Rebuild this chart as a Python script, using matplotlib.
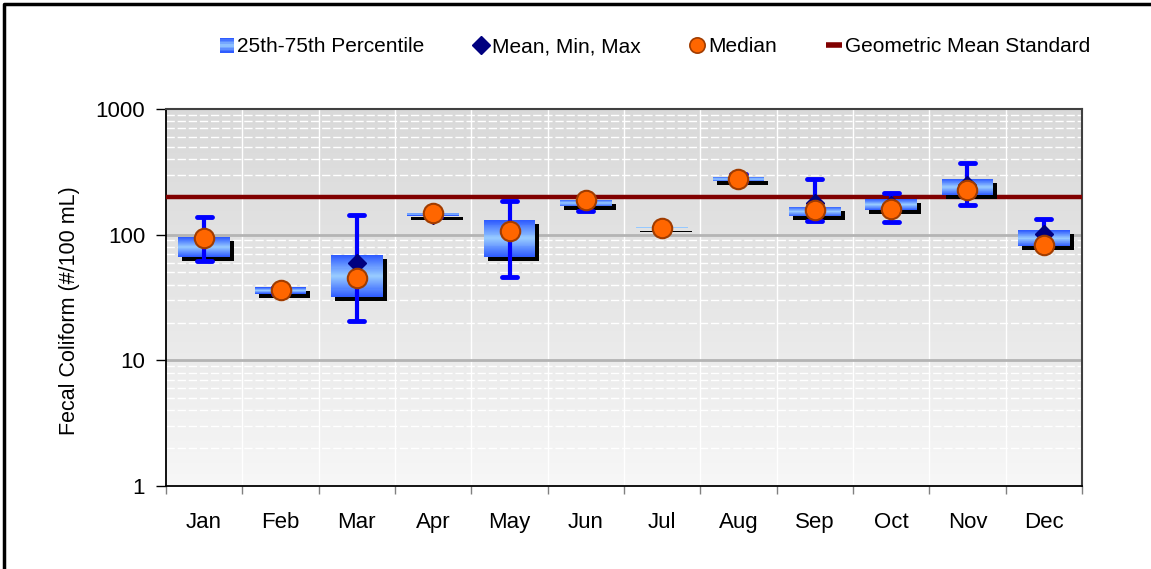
import numpy as np
import matplotlib
matplotlib.use("Agg")
import matplotlib.pyplot as plt
from matplotlib import transforms
from matplotlib.patches import Rectangle
from matplotlib.lines import Line2D
from matplotlib.legend_handler import HandlerBase
from matplotlib.colors import LinearSegmentedColormap

plt.rcParams['font.family'] = ['Liberation Sans', 'DejaVu Sans']

months = ["Jan", "Feb", "Mar", "Apr", "May", "Jun", "Jul", "Aug", "Sep", "Oct", "Nov", "Dec"]
q25 = [67, 34, 32, 142, 67, 168, 112, 265, 140, 157, 207, 81]
q75 = [95, 38, 69, 150, 131, 190, 116, 290, 167, 192, 277, 108]
median = [94, 36.5, 45, 149, 106, 189, 114, 277, 157, 160, 226, 82]
mean = [92, 36, 59, 143, 106, 185, 114, 285, 178, 172, 250, 101]
vmin = [62, 34, 20.4, 138, 46.4, 155, 112, 262, 128, 127, 172, 80]
vmax = [137, 38, 144, 152, 186, 192, 116, 305, 277, 214, 373, 133]
standard = 200
yticks = [1, 10, 100, 1000]
ylabel = "Fecal Coliform (#/100 mL)"
legend_labels = ["25th-75th Percentile", "Mean, Min, Max", "Median", "Geometric Mean Standard"]

W, H = 1151, 569
fig = plt.figure(figsize=(W / 100, H / 100), dpi=100)
ax = fig.add_axes([166 / W, 1 - 486 / H, (1082 - 166) / W, (486 - 109) / H])
ax.set_yscale('log')
n = len(months)
ax.set_xlim(-0.5, n - 0.5)
ax.set_ylim(1, 1000)
ax.set_autoscale_on(False)

# background gradient
bg = LinearSegmentedColormap.from_list('bg', ['#f7f7f7', '#e6e6e6', '#d9d9d9'])
grad = np.linspace(0, 1, 256).reshape(-1, 1)
ax.imshow(grad, cmap=bg, aspect='auto', extent=[0, 1, 0, 1], origin='lower',
          transform=ax.transAxes, zorder=0, interpolation='bilinear')

# gridlines
for d in range(0, 3):
    for k in range(2, 10):
        ax.axhline(k * 10 ** d, color='white', lw=1.0, ls=(0, (6, 2)), zorder=1)
for t in yticks[1:-1]:
    ax.axhline(t, color='#b4b4b4', lw=2.0, zorder=1.5)
for b in np.arange(0.5, n - 0.5, 1):
    ax.axvline(b, color='white', lw=1.0, zorder=1)

# standard line
ax.axhline(standard, color='#800000', lw=3.2, zorder=3)

box_cmap = LinearSegmentedColormap.from_list('box', ['#2f5cff', '#99ccff', '#2f5cff'])
shadow_tr = transforms.offset_copy(ax.transData, fig=fig, x=4, y=-4, units='dots')
bw = 0.68
nslice = 40
for i in range(n):
    lo, hi = q25[i], q75[i]
    ax.add_patch(Rectangle((i - bw / 2, lo), bw, hi - lo, facecolor='black',
                           edgecolor='none', transform=shadow_tr, zorder=3.5))
    edges = np.logspace(np.log10(lo), np.log10(hi), nslice + 1)
    for j in range(nslice):
        c = box_cmap(j / (nslice - 1))
        ax.add_patch(Rectangle((i - bw / 2, edges[j]), bw, edges[j + 1] - edges[j],
                               facecolor=c, edgecolor='none', zorder=4))

x = np.arange(n)
ax.vlines(x, vmin, vmax, color='#0000ff', lw=3, zorder=5)
cw = 0.1
ax.hlines(vmin, x - cw, x + cw, color='#0000ff', lw=3.5, zorder=5, capstyle='round')
ax.hlines(vmax, x - cw, x + cw, color='#0000ff', lw=3.5, zorder=5, capstyle='round')
ax.plot(x, mean, ls='none', marker='D', ms=9, color='#000080', zorder=6)
ax.plot(x, median, ls='none', marker='o', ms=14, markerfacecolor='#ff6600',
        markeredgecolor='#a03c00', markeredgewidth=1.5, zorder=7)

# axes styling
ax.set_yticks(yticks)
ax.set_yticklabels([str(t) for t in yticks])
ax.yaxis.set_minor_locator(matplotlib.ticker.NullLocator())
ax.tick_params(axis='y', which='major', length=7, width=1, direction='out', labelsize=16, pad=8)
ax.set_xticks(np.arange(-0.5, n, 1))
ax.set_xticklabels([])
ax.set_xticks(x, minor=True)
ax.set_xticklabels(months, minor=True)
ax.tick_params(axis='x', which='major', length=6, width=1, color='#808080', direction='out')
ax.tick_params(axis='x', which='minor', length=0, labelsize=16, pad=19)
for s in ['left', 'bottom']:
    ax.spines[s].set_color('black')
    ax.spines[s].set_linewidth(1.3)
for s in ['top', 'right']:
    ax.spines[s].set_color('#404040')
    ax.spines[s].set_linewidth(1.5)
ax.set_ylabel(ylabel, fontsize=15.5)
ax.yaxis.set_label_coords((80 - 166) / 916, (486 - 311) / 377)


class GradHandler(HandlerBase):
    def create_artists(self, legend, orig_handle, xdescent, ydescent, width, height, fontsize, trans):
        arts = []
        s = height * 1.0
        x0 = xdescent + width - s
        y0 = -ydescent + (height - s) / 2
        k = 10
        for j in range(k):
            r = Rectangle((x0, y0 + s * j / k), s, s / k, facecolor=box_cmap(j / (k - 1)),
                          edgecolor='none', transform=trans)
            arts.append(r)
        return arts


h_box = Rectangle((0, 0), 1, 1)
h_mean = Line2D([], [], ls='none', marker='D', ms=9, color='#000080')
h_med = Line2D([], [], ls='none', marker='o', ms=11, markerfacecolor='#ff6600',
               markeredgecolor='#a03c00', markeredgewidth=1.2)
h_std = Line2D([], [], ls='none', marker='_', ms=12, mew=4, color='#800000')
fig.legend([h_box, h_mean, h_med, h_std], legend_labels, loc='center',
           bbox_to_anchor=(654 / W, 1 - 47 / H), ncol=4, frameon=False, fontsize=15,
           handlelength=0.8, handletextpad=0.15, columnspacing=2.3,
           handler_map={Rectangle: GradHandler()})

# figure border (top and left only)
fig.add_artist(Line2D([4 / W, 4 / W, 1.0], [0.0, 1 - 4 / H, 1 - 4 / H], transform=fig.transFigure,
                      color='black', lw=2.5, solid_capstyle='projecting'))

fig.savefig("out.png", dpi=100)
